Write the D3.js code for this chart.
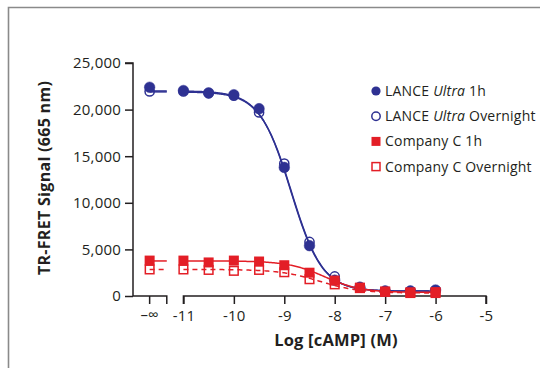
<!DOCTYPE html>
<html>
<head>
<meta charset="utf-8">
<script src="https://cdn.jsdelivr.net/npm/d3@7"></script>
<style>
  html, body { margin: 0; padding: 0; background: #fff; }
  svg { display: block; font-family: "Open Sans", "Noto Sans", sans-serif; }
</style>
</head>
<body>
<svg id="chart" width="540" height="368"></svg>
<script>
// Concentrations (log M); the first point is the no-cAMP control plotted at "-∞"
const logConc = [-Infinity, -11, -10.5, -10, -9.5, -9, -8.5, -8, -7.5, -7, -6.5, -6];

// TR-FRET signal (665 nm)
const lance1h        = [22400, 22050, 21800, 21600, 20100, 13800, 5400, 1700, 950, 550, 550, 650];
const lanceOvernight = [21950, 21950, 21750, 21500, 19700, 14200, 5800, 2100, 900, 500, 500, 600];
const companyC1h        = [3800, 3800, 3600, 3800, 3700, 3300, 2500, 1650, 900, 480, 400, 420];
const companyCOvernight = [2850, 2850, 2800, 2700, 2800, 2550, 1800, 1250, 850, 450, 320, 320];

// Four-parameter logistic fits: [top, bottom, logIC50, hill slope]
const fitLance1h        = [22000, 520, -8.87, 1.4];
const fitLanceOvernight = [21900, 520, -8.86, 1.4];
const fitCompanyC1h        = [3760, 380, -8.2, 1.2];
const fitCompanyCOvernight = [2850, 320, -8.3, 1.1];

const yTicks = [0, 5000, 10000, 15000, 20000, 25000];
const xTicks = [-11, -10, -9, -8, -7, -6, -5];
const legendLabels = [
  ["LANCE ", "Ultra", " 1h"],
  ["LANCE ", "Ultra", " Overnight"],
  ["Company C 1h", "", ""],
  ["Company C Overnight", "", ""]
];

const NAVY = "#2e3192";
const RED = "#e31e26";
const INK = "#231f20";
const FONT = "\"Open Sans\", sans-serif";

const svg = d3.select("#chart");

// page frame
svg.append("path")
  .attr("d", "M8.5,370 V7.5 H545")
  .attr("fill", "none").attr("stroke", "#8a8a8a").attr("stroke-width", 1.6);

// axis position for the control, and where the broken axis segment ends
const POS_INF = -11.67, POS_BREAK = -11.33, FIT_START = -11;

const x = d3.scaleLinear().domain([-12, -5]).range([133, 486]);
const y = d3.scaleLinear().domain([0, 25000]).range([296, 63]);
const xPos = v => v === -Infinity ? x(POS_INF) : x(v);

// y axis
const yAxis = svg.append("g").attr("transform", `translate(${x(-12)},0)`)
  .call(d3.axisLeft(y).tickValues(yTicks).tickSize(8).tickPadding(4)
        .tickFormat(d3.format(",")));
yAxis.select(".domain").attr("d", `M0,${y(0)}V${y(25000)}H-8`);
yAxis.selectAll("line, path").attr("stroke", INK).attr("stroke-width", 1.5);
yAxis.selectAll("text").attr("font-size", 15).attr("fill", INK)
  .attr("font-family", FONT).attr("letter-spacing", 0.2);

// x axis, broken between the control and the first concentration
const xg = svg.append("g").attr("transform", `translate(0,${y(0)})`);
const xAxis = xg.append("g")
  .call(d3.axisBottom(x).tickValues(xTicks).tickSize(8).tickPadding(6)
        .tickFormat(d => d3.format("d")(d).replace("−", "-")));
xAxis.select(".domain").attr("d", `M${x(-11)},8V0H${x(-5)}V8`);
xg.append("path")
  .attr("d", `M${x(-12)},0H${x(POS_BREAK)}V8M${x(POS_INF)},0V8`)
  .attr("fill", "none");
xg.append("text").attr("x", x(POS_INF)).attr("y", 24)
  .attr("text-anchor", "middle").text("\u2013\u221e");
xg.selectAll("line, path").attr("stroke", INK).attr("stroke-width", 1.5);
xg.selectAll("text").attr("font-size", 15).attr("fill", INK)
  .attr("font-family", FONT).attr("letter-spacing", 0.2);

// axis titles
svg.append("text").attr("x", 336).attr("y", 346).attr("text-anchor", "middle")
  .attr("font-weight", "bold").attr("font-size", 16.5).attr("letter-spacing", 0.2)
  .attr("fill", INK).text("Log [cAMP] (M)");
svg.append("text").attr("transform", "translate(50,178) rotate(-90)")
  .attr("text-anchor", "middle").attr("font-weight", "bold")
  .attr("font-size", 16).attr("letter-spacing", 0.3)
  .attr("fill", INK).text("TR-FRET Signal (665 nm)");

// fitted curves
const logistic = ([top, bottom, c, h]) => v => bottom + (top - bottom) / (1 + Math.pow(10, (v - c) * h));
const fitX = d3.range(FIT_START, -5.999, 0.02);
const line = d3.line().x(d => x(d[0])).y(d => y(d[1]));

function drawFit(params, color, dash) {
  const f = logistic(params);
  const g = svg.append("g").attr("fill", "none").attr("stroke", color)
    .attr("stroke-width", 1.5).attr("stroke-dasharray", dash);
  g.append("path").attr("d", line(fitX.map(v => [v, f(v)])));
  // level of the control point, up to the axis break
  g.append("path").attr("d", line([[POS_INF, params[0]], [POS_BREAK, params[0]]]));
}

function drawCircles(vals, filled) {
  svg.append("g").selectAll("circle").data(vals).join("circle")
    .attr("cx", (d, i) => xPos(logConc[i])).attr("cy", d => y(d))
    .attr("r", filled ? 5.3 : 4.6)
    .attr("fill", filled ? NAVY : "#fff")
    .attr("fill-opacity", filled ? 1 : 0)
    .attr("stroke", NAVY).attr("stroke-width", filled ? 0.5 : 1.5);
}
function drawSquares(vals, filled) {
  const s = filled ? 10 : 8.6;
  svg.append("g").selectAll("rect").data(vals).join("rect")
    .attr("x", (d, i) => xPos(logConc[i]) - s / 2).attr("y", d => y(d) - s / 2)
    .attr("width", s).attr("height", s)
    .attr("fill", filled ? RED : "none")
    .attr("stroke", filled ? "none" : RED).attr("stroke-width", 1.5);
}

drawFit(fitLanceOvernight, NAVY, null);
drawFit(fitLance1h, NAVY, null);
drawCircles(lanceOvernight, false);
drawCircles(lance1h, true);
drawFit(fitCompanyCOvernight, RED, "5,4");
drawFit(fitCompanyC1h, RED, null);
drawSquares(companyCOvernight, false);
drawSquares(companyC1h, true);

// legend
const legend = svg.append("g").attr("transform", "translate(376,91)");
const rowH = 25.2;
legend.append("circle").attr("cx", 0).attr("cy", 0).attr("r", 4.6).attr("fill", NAVY);
legend.append("circle").attr("cx", 0).attr("cy", rowH).attr("r", 4.2)
  .attr("fill", "none").attr("stroke", NAVY).attr("stroke-width", 1.5);
legend.append("rect").attr("x", -4.5).attr("y", 2 * rowH - 4.5).attr("width", 9).attr("height", 9).attr("fill", RED);
legend.append("rect").attr("x", -4).attr("y", 3 * rowH - 4).attr("width", 8).attr("height", 8)
  .attr("fill", "none").attr("stroke", RED).attr("stroke-width", 1.5);
legendLabels.forEach((parts, i) => {
  const t = legend.append("text").attr("x", 9).attr("y", i * rowH + 5)
    .attr("font-size", 14).attr("letter-spacing", 0.2).attr("fill", INK);
  t.append("tspan").text(parts[0]);
  if (parts[1]) t.append("tspan").attr("font-style", "italic").text(parts[1]);
  if (parts[2]) t.append("tspan").text(parts[2]);
});
</script>
</body>
</html>
